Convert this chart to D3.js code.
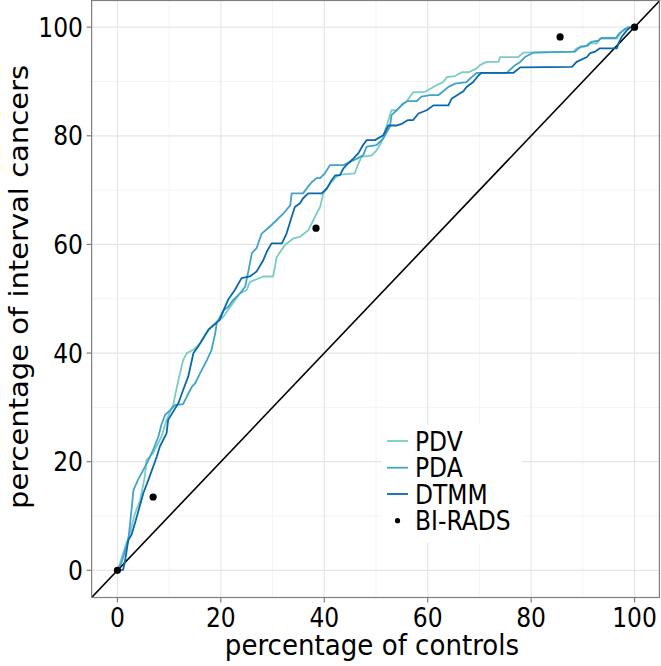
<!DOCTYPE html>
<html>
<head>
<meta charset="utf-8">
<script src="https://d3js.org/d3.v7.min.js"></script>
<style>
  body { margin: 0; background: #fff; }
  text { font-family: "DejaVu Sans", sans-serif; fill: #000; }
</style>
</head>
<body>
<svg id="chart"></svg>
<script>
// curves: [percentage of controls, percentage of interval cancers]
const pdv = [[0,0],[0.5,1.3],[1.5,4.4],[2.4,6.8],[3.4,10.5],[4.4,13.0],[5.3,17.3],[5.6,20.3],[6.9,21.6],[8.5,24.6],[9.5,27.7],[10.8,30.5],[11.5,33.8],[12.7,38.7],[13.4,40.0],[14.7,40.6],[16.0,41.8],[17.6,44.3],[19.2,45.8],[20.5,46.7],[21.8,48.5],[23.7,51.0],[25.0,51.6],[25.6,53.1],[28.2,54.1],[30.1,54.1],[30.8,57.7],[32.4,59.9],[34.0,61.1],[35.3,61.4],[36.9,62.6],[37.9,64.5],[38.5,65.7],[39.2,66.9],[39.8,69.4],[41.1,71.2],[42.1,72.2],[42.7,72.8],[45.9,73.1],[46.6,74.9],[47.2,76.1],[49.2,76.4],[50.1,77.3],[51.1,78.9],[51.7,80.7],[52.4,82.9],[53.0,84.7],[54.0,84.7],[54.6,85.3],[55.9,86.3],[57.2,88.0],[59.5,88.1],[61.1,89.0],[63.0,89.9],[63.7,90.8],[65.3,91.0],[66.6,91.7],[67.9,91.7],[69.5,92.4],[70.1,93.0],[71.4,93.6],[73.7,93.6],[74.0,94.5],[77.5,94.5],[78.5,95.3],[88.2,95.5],[88.8,96.1],[90.4,96.4],[91.1,97.0],[92.7,97.0],[93.3,97.9],[96.6,97.9],[97.2,98.8],[98.5,99.9],[100,100]];

const pda = [[0,0],[0.8,1.5],[1.6,4.0],[2.1,5.6],[2.6,10.0],[3.1,14.8],[4.0,16.7],[5.0,18.5],[6.0,20.3],[6.9,22.2],[7.9,24.6],[8.5,26.8],[9.2,28.6],[10.2,29.5],[11.1,30.4],[12.7,30.6],[13.4,32.0],[14.4,33.8],[15.0,34.4],[16.0,36.3],[17.3,38.7],[18.2,40.6],[18.9,43.6],[19.2,45.5],[20.5,47.9],[21.4,48.5],[22.4,49.8],[23.7,51.0],[24.7,52.2],[25.3,55.0],[26.0,58.4],[26.9,59.3],[27.9,62.0],[29.5,63.3],[30.8,64.5],[32.1,65.7],[33.4,67.2],[33.7,69.4],[35.9,69.4],[36.9,70.7],[37.6,71.5],[38.5,72.2],[39.2,72.2],[40.1,73.1],[41.1,74.6],[43.7,74.6],[45.0,75.2],[46.3,75.8],[47.5,76.4],[48.2,78.0],[50.1,78.3],[51.4,79.5],[52.7,81.7],[53.0,83.8],[54.0,84.7],[55.3,86.0],[56.2,86.4],[57.9,86.4],[58.8,87.2],[60.4,87.5],[62.1,87.5],[63.0,88.2],[64.0,89.0],[65.3,89.6],[67.5,89.9],[68.5,90.8],[69.5,91.6],[75.3,91.6],[76.2,92.4],[76.9,93.0],[77.9,93.6],[78.8,94.5],[80.4,95.3],[88.5,95.5],[89.5,96.4],[91.0,96.6],[91.6,97.3],[93.0,97.5],[93.6,98.0],[96.4,98.0],[97.0,98.8],[98.0,99.6],[99.0,100],[100,100]];

const dtmm = [[0,0],[1.1,0.1],[1.5,1.9],[2.1,5.6],[2.7,6.5],[3.4,8.7],[5.0,14.2],[6.0,16.7],[7.6,20.9],[8.2,22.8],[9.5,25.2],[9.8,27.7],[11.8,30.8],[12.7,33.2],[13.7,35.7],[14.7,40.0],[15.6,41.2],[17.6,44.3],[19.8,46.1],[20.8,48.5],[21.4,49.8],[22.7,51.6],[24.0,53.8],[25.6,54.1],[26.9,55.0],[28.2,57.1],[28.9,58.7],[29.8,60.2],[31.8,60.2],[32.7,62.0],[33.7,65.1],[34.3,66.9],[35.3,67.6],[35.9,68.5],[36.9,69.4],[39.5,69.4],[40.5,70.3],[41.4,71.8],[42.1,72.7],[43.0,72.7],[43.7,74.0],[44.6,74.9],[45.6,75.8],[46.6,76.8],[47.5,78.3],[48.2,79.2],[49.8,79.2],[51.4,80.1],[52.4,81.9],[54.0,81.9],[55.0,82.2],[56.2,82.9],[57.2,82.9],[58.2,84.1],[59.8,84.7],[61.1,85.6],[64.0,85.6],[64.6,86.8],[65.6,87.4],[66.9,88.2],[67.5,89.0],[68.8,89.9],[69.8,91.1],[70.4,91.6],[76.6,91.6],[77.9,92.6],[87.9,92.7],[88.8,93.6],[90.8,94.5],[91.4,95.2],[92.4,95.5],[93.3,96.1],[96.6,96.1],[96.9,97.0],[97.5,98.2],[98.5,99.4],[99.1,99.9],[100,100]];

const birads = [[0,0],[6.9,13.5],[38.4,63.0],[85.6,98.2],[100,100]];

const seriesNames = ["PDV", "PDA", "DTMM"];
const seriesColors = ["#7bccc4", "#43a2ca", "#0868ac"];
const xTicks = [0, 20, 40, 60, 80, 100];
const yTicks = [0, 20, 40, 60, 80, 100];
const minorTicks = [10, 30, 50, 70, 90];

const W = 661, H = 666;
const panel = {left: 91.6, right: 660.4, top: 0, bottom: 597.5};
const squeeze = 0.9;   // text in the picture is a bit narrower than tall
const smallSize = 26, titleSize = 29;

const svg = d3.select("#chart").attr("width", W).attr("height", H);

const x = d3.scaleLinear().domain([-5, 105]).range([panel.left, panel.right]);
const y = d3.scaleLinear().domain([-5, 105]).range([panel.bottom, panel.top]);

// panel background + grid
svg.append("rect")
    .attr("x", panel.left).attr("y", panel.top)
    .attr("width", panel.right - panel.left).attr("height", panel.bottom - panel.top)
    .attr("fill", "#fff");

const grid = svg.append("g");
minorTicks.forEach(t => {
    grid.append("line").attr("x1", x(t)).attr("x2", x(t)).attr("y1", panel.top).attr("y2", panel.bottom)
        .attr("stroke", "#f4f4f4").attr("stroke-width", 1);
    grid.append("line").attr("y1", y(t)).attr("y2", y(t)).attr("x1", panel.left).attr("x2", panel.right)
        .attr("stroke", "#f4f4f4").attr("stroke-width", 1);
});
xTicks.forEach(t => {
    grid.append("line").attr("x1", x(t)).attr("x2", x(t)).attr("y1", panel.top).attr("y2", panel.bottom)
        .attr("stroke", "#e6e6e6").attr("stroke-width", 1.2);
});
yTicks.forEach(t => {
    grid.append("line").attr("y1", y(t)).attr("y2", y(t)).attr("x1", panel.left).attr("x2", panel.right)
        .attr("stroke", "#e6e6e6").attr("stroke-width", 1.2);
});

// clip to panel
svg.append("clipPath").attr("id", "clip").append("rect")
    .attr("x", panel.left).attr("y", panel.top)
    .attr("width", panel.right - panel.left).attr("height", panel.bottom - panel.top);

const plot = svg.append("g").attr("clip-path", "url(#clip)");

// reference diagonal
plot.append("line")
    .attr("x1", x(-5)).attr("y1", y(-5)).attr("x2", x(105)).attr("y2", y(105))
    .attr("stroke", "#000").attr("stroke-width", 1.6);

const line = d3.line().x(d => x(d[0])).y(d => y(d[1]));
[pdv, pda, dtmm].forEach((s, i) => {
    plot.append("path")
        .datum(s)
        .attr("d", line)
        .attr("fill", "none")
        .attr("stroke", seriesColors[i])
        .attr("stroke-width", 1.8)
        .attr("stroke-linejoin", "round");
});

plot.selectAll(".dot")
    .data(birads)
    .enter().append("circle")
    .attr("cx", d => x(d[0]))
    .attr("cy", d => y(d[1]))
    .attr("r", 3.6)
    .attr("fill", "#000");

// panel border
svg.append("rect")
    .attr("x", panel.left).attr("y", panel.top + 0.5)
    .attr("width", panel.right - panel.left - 1).attr("height", panel.bottom - panel.top - 0.5)
    .attr("fill", "none").attr("stroke", "#7f7f7f").attr("stroke-width", 1.2);

// helper for the slightly narrow text
function label(parent, px, py, str, size, anchor, rotate) {
    const g = parent.append("g")
        .attr("transform", rotate
            ? `translate(${px},${py}) rotate(-90) scale(1,${squeeze})`
            : `translate(${px},${py}) scale(${squeeze},1)`);
    return g.append("text")
        .attr("text-anchor", anchor)
        .style("font-size", size + "px")
        .text(str);
}

// axes: ticks + labels
const axes = svg.append("g");
xTicks.forEach(t => {
    axes.append("line").attr("x1", x(t)).attr("x2", x(t))
        .attr("y1", panel.bottom).attr("y2", panel.bottom + 5)
        .attr("stroke", "#7f7f7f").attr("stroke-width", 1.2);
    label(axes, x(t), 627, t, smallSize, "middle");
});
yTicks.forEach(t => {
    axes.append("line").attr("y1", y(t)).attr("y2", y(t))
        .attr("x1", panel.left - 5).attr("x2", panel.left)
        .attr("stroke", "#7f7f7f").attr("stroke-width", 1.2);
    label(axes, 83, y(t) + 9.5, t, smallSize, "end");
});

label(svg, 372, 655, "percentage of controls", titleSize, "middle");
label(svg, 28, 287, "percentage of interval cancers", titleSize, "middle", true);

// legend
const legend = svg.append("g");
legend.append("rect")
    .attr("x", 381.5).attr("y", 425).attr("width", 140).attr("height", 118)
    .attr("fill", "#fff");

const keyY = [441, 467.7, 494, 520.7];
seriesNames.forEach((name, i) => {
    legend.append("line")
        .attr("x1", 387).attr("x2", 408).attr("y1", keyY[i]).attr("y2", keyY[i])
        .attr("stroke", seriesColors[i]).attr("stroke-width", 1.8);
    label(legend, 415, keyY[i] + 9.5, name, smallSize, "start");
});
legend.append("circle").attr("cx", 397.5).attr("cy", keyY[3]).attr("r", 2.6).attr("fill", "#000");
label(legend, 415, keyY[3] + 9.5, "BI-RADS", smallSize, "start");
</script>
</body>
</html>
